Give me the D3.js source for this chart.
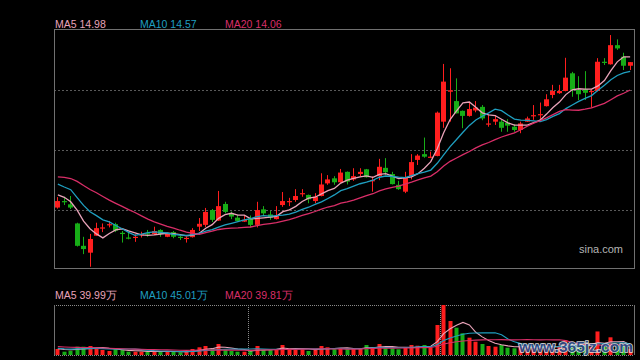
<!DOCTYPE html>
<html>
<head>
<meta charset="utf-8">
<script src="https://cdn.jsdelivr.net/npm/d3@7/dist/d3.min.js"></script>
<style>
  html, body { margin: 0; padding: 0; background: #000; }
  svg { display: block; font-family: "Liberation Sans", Arial, sans-serif; }
</style>
</head>
<body>
<div id="chart"></div>
<script>
// daily candles, oldest first
var opens = [10.80, 10.98, 10.89, 10.36, 9.74, 9.55, 10.02, 10.22, 10.31, 10.34,
  10.10, 9.97, 9.97, 10.04, 10.09, 10.06, 10.18, 9.99, 10.12, 9.99,
  9.93, 9.98, 10.27, 10.32, 10.73, 10.44, 10.90, 10.64, 10.52, 10.41,
  10.50, 10.32, 10.75, 10.61, 10.48, 10.87, 10.96, 11.01, 11.17, 11.15,
  10.98, 11.12, 11.47, 11.61, 11.50, 11.79, 11.58, 11.73, 11.86, 11.54,
  11.67, 11.90, 11.73, 11.43, 11.24, 11.67, 12.12, 12.28, 12.18, 12.23,
  13.18, 14.01, 13.75, 13.48, 13.34, 13.49, 13.59, 13.11, 13.18, 13.18,
  13.15, 13.04, 12.95, 13.18, 13.34, 13.36, 13.61, 13.92, 13.97, 14.03,
  14.52, 14.06, 14.08, 14.00, 14.03, 14.84, 14.77, 15.30, 14.98, 14.73];
var highs = [11.09, 11.10, 11.12, 10.38, 9.99, 10.07, 10.38, 10.36, 10.43, 10.38,
  10.15, 10.13, 10.06, 10.13, 10.18, 10.27, 10.20, 10.10, 10.15, 10.01,
  9.99, 10.23, 10.51, 10.79, 10.76, 11.26, 10.96, 10.69, 10.59, 10.59,
  10.58, 10.96, 10.84, 10.71, 10.84, 11.23, 11.07, 11.31, 11.31, 11.16,
  11.20, 11.75, 11.70, 11.67, 11.87, 11.80, 11.89, 11.89, 11.87, 11.66,
  12.15, 12.17, 11.79, 11.54, 11.79, 12.28, 12.28, 12.74, 12.35, 13.46,
  14.78, 14.66, 14.38, 13.49, 13.73, 13.75, 13.64, 13.36, 13.36, 13.23,
  13.25, 13.11, 13.18, 13.32, 13.64, 13.71, 13.94, 14.20, 14.20, 14.95,
  14.56, 14.44, 14.58, 14.08, 14.94, 14.94, 15.58, 15.46, 15.09, 14.83];
var lows = [10.77, 10.87, 10.76, 9.72, 9.51, 9.16, 10.01, 10.12, 10.25, 10.12,
  9.83, 9.92, 9.85, 9.97, 9.99, 10.04, 9.99, 9.98, 9.95, 9.90,
  9.83, 9.97, 10.15, 10.26, 10.40, 10.43, 10.64, 10.48, 10.40, 10.40,
  10.25, 10.25, 10.59, 10.46, 10.47, 10.82, 10.84, 10.96, 11.10, 10.92,
  10.92, 11.11, 11.43, 11.43, 11.49, 11.44, 11.54, 11.67, 11.63, 11.24,
  11.56, 11.70, 11.44, 11.29, 11.20, 11.58, 11.98, 12.18, 12.17, 12.22,
  13.01, 13.18, 13.41, 13.00, 13.32, 13.44, 13.22, 13.04, 13.09, 12.90,
  12.90, 12.90, 12.86, 13.17, 13.23, 13.25, 13.60, 13.83, 13.95, 14.02,
  13.87, 13.78, 13.78, 13.57, 14.02, 14.75, 14.76, 15.17, 14.61, 14.61];
var closes = [10.98, 10.95, 10.80, 9.74, 9.65, 9.93, 10.23, 10.25, 10.34, 10.16,
  10.08, 9.94, 9.99, 10.06, 10.07, 10.15, 10.07, 10.09, 9.99, 9.96,
  9.96, 10.18, 10.35, 10.68, 10.46, 10.84, 10.68, 10.55, 10.43, 10.46,
  10.32, 10.73, 10.64, 10.52, 10.57, 10.98, 10.98, 11.12, 11.20, 11.03,
  11.10, 11.44, 11.58, 11.50, 11.77, 11.52, 11.67, 11.79, 11.64, 11.56,
  11.93, 11.78, 11.45, 11.31, 11.64, 12.06, 12.24, 12.21, 12.21, 13.43,
  14.29, 14.05, 13.41, 13.34, 13.53, 13.57, 13.27, 13.13, 13.25, 13.01,
  13.07, 12.95, 13.13, 13.27, 13.36, 13.39, 13.80, 14.03, 14.03, 14.40,
  14.06, 13.94, 13.98, 14.03, 14.84, 14.81, 15.30, 15.21, 14.73, 14.83];
// volume, in 万 shares
var volumes = [24, 13.2, 17.2, 33.2, 33.2, 36, 26.8, 20, 16, 22.8,
  20, 13.2, 13.2, 13.2, 13.2, 16, 13.2, 13.2, 13.2, 10.8,
  13.2, 24, 30.8, 36, 22.8, 44, 22.8, 16, 13.2, 13.2,
  17.2, 36, 20, 20, 22.8, 40, 22.8, 22.8, 22.8, 16,
  22.8, 36, 30.8, 22.8, 26.8, 26.8, 24, 24, 40, 29.2,
  44, 30.8, 26.8, 22.8, 29.2, 40, 37.2, 40, 29.2, 120,
  200, 136, 109.2, 86.8, 69.2, 53.2, 44, 36, 33.2, 40,
  29.2, 26.8, 36, 32, 28, 28, 40, 36, 32, 58.1,
  48, 40, 36, 32, 94.15, 32, 70.8, 36, 37.15, 24];
// sessions before the visible window, only needed for the moving averages
var priorCloses = [11.30, 11.40, 11.35, 11.95, 12.10, 12.05, 12.30, 12.40, 11.90, 11.80,
  11.75, 11.55, 11.95, 11.80, 11.70, 11.28, 11.42, 10.89, 11.18];
var priorVolumes = [40, 45, 38, 42, 36, 50, 44, 38, 40, 35,
  30, 28, 25, 27, 30, 26, 22, 28, 24];
var maPeriods = [5, 10, 20];
var maColors = ['#e9a3b9', '#1f9fc0', '#d92e68'];
var monthStarts = [30, 60];
var priceRange = [9.07, 15.72];
var volumeRange = [0, 200];

var width = 640, height = 360;
var main = {left: 54, right: 634, top: 30, bottom: 270};
var vol = {top: 305, bottom: 355};
var upColor = '#ff1e1e', downColor = '#17ad17';

function movingAvg(prior, values, n) {
  var all = prior.concat(values);
  return values.map(function(v, i) {
    var end = prior.length + i;
    return d3.mean(all.slice(end - n + 1, end + 1));
  });
}

var idx = d3.range(closes.length);
var x = d3.scaleBand().domain(idx).range([main.left, main.right]).padding(0.2);
var bw = x.bandwidth();
var step = x.step();
function cx(i) { return x(i) + bw / 2; }
var y = d3.scaleLinear().domain(priceRange).range([main.bottom, main.top]);
var yv = d3.scaleLinear().domain(volumeRange).range([vol.bottom, vol.top]);

var svg = d3.select('#chart').append('svg').attr('width', width).attr('height', height);
svg.append('rect').attr('width', width).attr('height', height).attr('fill', '#000');

svg.append('clipPath').attr('id', 'clipMain').append('rect')
  .attr('x', main.left).attr('y', main.top)
  .attr('width', main.right - main.left).attr('height', main.bottom - main.top);
svg.append('clipPath').attr('id', 'clipVol').append('rect')
  .attr('x', main.left).attr('y', vol.top)
  .attr('width', main.right - main.left).attr('height', vol.bottom - vol.top);

// grid, 4 bands in the price panel
var gridY = d3.range(1, 4).map(function(k) { return main.top + (main.bottom - main.top) * k / 4; });
svg.append('g').selectAll('line').data(gridY).enter().append('line')
  .attr('x1', main.left).attr('x2', main.right)
  .attr('y1', function(d) { return Math.round(d) + 0.5; })
  .attr('y2', function(d) { return Math.round(d) + 0.5; })
  .attr('stroke', '#5a5a5a').attr('stroke-dasharray', '2,2');

// price panel frame
svg.append('rect')
  .attr('x', main.left + 0.5).attr('y', main.top - 0.5)
  .attr('width', main.right - main.left).attr('height', main.bottom - main.top - 1)
  .attr('fill', 'none').attr('stroke', '#707070');

// candles
var candles = svg.append('g').attr('clip-path', 'url(#clipMain)')
  .selectAll('g').data(idx).enter().append('g');
candles.append('line')
  .attr('x1', function(i) { return Math.floor(cx(i)) + 0.5; })
  .attr('x2', function(i) { return Math.floor(cx(i)) + 0.5; })
  .attr('y1', function(i) { return y(highs[i]); })
  .attr('y2', function(i) { return y(lows[i]); })
  .attr('stroke', function(i) { return closes[i] >= opens[i] ? upColor : downColor; });
candles.append('rect')
  .attr('x', function(i) { return Math.floor(cx(i)) - 2; })
  .attr('width', 5)
  .attr('y', function(i) { return y(Math.max(opens[i], closes[i])); })
  .attr('height', function(i) { return Math.max(1.2, Math.abs(y(opens[i]) - y(closes[i]))); })
  .attr('fill', function(i) { return closes[i] >= opens[i] ? upColor : downColor; });

// price moving averages
var priceMA = maPeriods.map(function(n) { return movingAvg(priorCloses, closes, n); });
var line = d3.line().x(function(d, i) { return cx(i); }).y(function(d) { return y(d); });
svg.append('g').attr('clip-path', 'url(#clipMain)')
  .selectAll('path').data(priceMA).enter().append('path')
  .attr('d', line).attr('fill', 'none')
  .attr('stroke', function(d, k) { return maColors[k]; })
  .attr('stroke-width', 1.3);

// volume panel frame
var volFrame = svg.append('g');
volFrame.selectAll('line.h').data([vol.top, vol.bottom]).enter().append('line')
  .attr('x1', main.left).attr('x2', main.right)
  .attr('y1', function(d) { return d + 0.5; }).attr('y2', function(d) { return d + 0.5; })
  .attr('stroke', '#8a8a8a').attr('stroke-dasharray', '1,1');
volFrame.selectAll('line.v').data([main.left, main.right]).enter().append('line')
  .attr('x1', function(d) { return d + 0.5; }).attr('x2', function(d) { return d + 0.5; })
  .attr('y1', vol.top).attr('y2', vol.bottom)
  .attr('stroke', '#707070');
volFrame.selectAll('line.m').data(monthStarts).enter().append('line')
  .attr('x1', function(i) { return Math.round(x(i) - (step - bw) / 2) + 0.5; })
  .attr('x2', function(i) { return Math.round(x(i) - (step - bw) / 2) + 0.5; })
  .attr('y1', vol.top).attr('y2', vol.bottom)
  .attr('stroke', '#8a8a8a').attr('stroke-dasharray', '1,1');

// volume bars
svg.append('g').attr('clip-path', 'url(#clipVol)')
  .selectAll('rect').data(idx).enter().append('rect')
  .attr('x', function(i) { return Math.floor(cx(i)) - 1.5; })
  .attr('width', 4)
  .attr('y', function(i) { return yv(volumes[i]); })
  .attr('height', function(i) { return vol.bottom - yv(volumes[i]); })
  .attr('fill', function(i) { return closes[i] >= opens[i] ? upColor : downColor; });

var volMA = maPeriods.map(function(n) { return movingAvg(priorVolumes, volumes, n); });
var vline = d3.line().x(function(d, i) { return cx(i); }).y(function(d) { return yv(d); });
svg.append('g').attr('clip-path', 'url(#clipVol)')
  .selectAll('path').data(volMA).enter().append('path')
  .attr('d', vline).attr('fill', 'none')
  .attr('stroke', function(d, k) { return maColors[k]; })
  .attr('stroke-width', 1.1);

// legends use the last session's values
var last = closes.length - 1;
var legendX = [55, 140, 225];
svg.append('g').selectAll('text').data(maPeriods).enter().append('text')
  .attr('x', function(d, k) { return legendX[k]; }).attr('y', 28)
  .attr('font-size', 10.5)
  .attr('fill', function(d, k) { return maColors[k]; })
  .text(function(d, k) { return 'MA' + d + ' ' + priceMA[k][last].toFixed(2); });
svg.append('g').selectAll('text').data(maPeriods).enter().append('text')
  .attr('x', function(d, k) { return legendX[k]; }).attr('y', 299)
  .attr('font-size', 10.5)
  .attr('fill', function(d, k) { return maColors[k]; })
  .text(function(d, k) { return 'MA' + d + ' ' + volMA[k][last].toFixed(2) + '万'; });

// watermarks
svg.append('text').attr('x', 623).attr('y', 253).attr('text-anchor', 'end')
  .attr('font-size', 11).attr('fill', '#b4b4b4').text('sina.com');
svg.append('text').attr('x', 633).attr('y', 352).attr('text-anchor', 'end')
  .attr('font-size', 15.5).attr('font-weight', 'bold')
  .attr('fill', '#2b4d8c').attr('stroke', '#e6e6e6').attr('stroke-width', 1.6)
  .attr('paint-order', 'stroke').attr('opacity', 0.9)
  .text('www.365jz.com');
</script>
</body>
</html>
